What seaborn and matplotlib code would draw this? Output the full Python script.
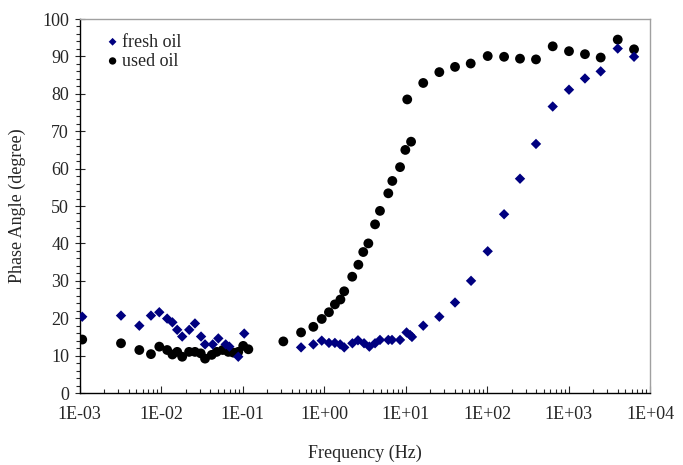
import numpy as np
import pandas as pd
import matplotlib
matplotlib.use("Agg")
import matplotlib.pyplot as plt
import seaborn as sns
from matplotlib.ticker import LogLocator, FixedLocator, MultipleLocator

# fresh oil (navy diamonds)
fresh_freq = [1.08e-3, 3.23e-3, 5.42e-3, 7.53e-3, 9.53e-3, 1.19e-2, 1.38e-2, 1.58e-2,
              1.82e-2, 2.22e-2, 2.61e-2, 3.10e-2, 3.47e-2, 4.31e-2, 5.05e-2, 6.22e-2,
              6.89e-2, 8.87e-2, 0.105,
              0.523, 0.740, 0.938, 1.15, 1.36, 1.58, 1.77, 2.23, 2.61, 3.10, 3.60,
              4.23, 4.86, 6.15, 6.83, 8.57, 10.3, 11.4, 12.0,
              16.5, 26.0, 40.5, 63.7, 102, 162, 254, 399, 640, 1014, 1592, 2483, 4018, 6368]
fresh_phase = [20.4, 20.7, 18.0, 20.7, 21.6, 19.9, 18.9, 16.9,
               15.1, 16.9, 18.6, 15.1, 13.0, 13.0, 14.6, 13.0,
               12.4, 9.7, 15.9,
               12.2, 13.0, 14.0, 13.4, 13.4, 13.0, 12.2, 13.3, 14.1, 13.3, 12.4,
               13.3, 14.2, 14.2, 14.2, 14.2, 16.2, 15.5, 15.0,
               18.0, 20.4, 24.2, 30.0, 37.9, 47.8, 57.3, 66.6, 76.6, 81.1, 84.1, 86.0, 92.1, 89.9]

# used oil (black circles)
used_freq = [1.08e-3, 3.23e-3, 5.42e-3, 7.53e-3, 9.53e-3, 1.19e-2, 1.38e-2, 1.58e-2,
             1.82e-2, 2.21e-2, 2.61e-2, 3.07e-2, 3.47e-2, 4.19e-2, 4.82e-2, 5.71e-2,
             6.70e-2, 7.71e-2, 8.87e-2, 0.102, 0.118,
             0.317, 0.523, 0.740, 0.938, 1.15, 1.36, 1.59, 1.77, 2.22, 2.64, 3.03,
             3.50, 4.23, 4.86, 6.15, 6.89, 8.57, 9.95, 10.5, 11.7,
             16.5, 26.0, 40.5, 63.1, 102, 162, 254, 399, 640, 1014, 1592, 2483, 4018, 6368]
used_phase = [14.3, 13.3, 11.5, 10.4, 12.4, 11.5, 10.3, 11.0,
              9.7, 11.0, 11.0, 10.6, 9.2, 10.2, 11.0, 11.5,
              11.0, 10.8, 11.0, 12.6, 11.7,
              13.8, 16.2, 17.7, 19.8, 21.6, 23.7, 25.0, 27.2, 31.1, 34.3, 37.7,
              40.0, 45.1, 48.7, 53.4, 56.7, 60.4, 65.0, 78.5, 67.2,
              82.9, 85.8, 87.2, 88.1, 90.1, 89.9, 89.4, 89.2, 92.7, 91.4, 90.6, 89.7, 94.5, 91.9]

x_ticks = [1e-3, 1e-2, 1e-1, 1e0, 1e1, 1e2, 1e3, 1e4]
x_labels = ["1E-03", "1E-02", "1E-01", "1E+00", "1E+01", "1E+02", "1E+03", "1E+04"]

fresh = pd.DataFrame({"freq": fresh_freq, "phase": fresh_phase})
used = pd.DataFrame({"freq": used_freq, "phase": used_phase})

sns.set_style("ticks")
plt.rcParams["font.family"] = ["Liberation Serif", "DejaVu Serif"]

fig = plt.figure(figsize=(6.83, 4.65), dpi=100)
ax = fig.add_axes([0.1164, 0.1548, 0.8353, 0.8043])

sns.scatterplot(data=fresh, x="freq", y="phase", marker="D", s=28, color="#000080",
                edgecolor="none", label="fresh oil", ax=ax, zorder=3)
sns.scatterplot(data=used, x="freq", y="phase", marker="o", s=50, color="black",
                edgecolor="none", label="used oil", ax=ax, zorder=2)

ax.set_xscale("log")
ax.set_xlim(1e-3, 1e4)
ax.set_ylim(0, 100)
ax.xaxis.set_major_locator(FixedLocator(x_ticks))
ax.set_xticklabels(x_labels)
ax.xaxis.set_minor_locator(LogLocator(base=10, subs=np.arange(2, 10)))
ax.xaxis.set_minor_formatter(plt.NullFormatter())
ax.yaxis.set_major_locator(MultipleLocator(10))
ax.yaxis.set_minor_locator(MultipleLocator(2))

ax.tick_params(axis="x", which="major", direction="in", length=5, width=0.8, pad=9,
               labelsize=13)
ax.tick_params(axis="x", which="minor", direction="in", length=3, width=0.8)
ax.tick_params(axis="y", which="major", direction="inout", length=7, width=0.8, pad=4,
               labelsize=13)
ax.tick_params(axis="y", which="minor", direction="out", length=3, width=0.8)

ax.set_xlabel("Frequency (Hz)", fontsize=13, labelpad=16)
ax.set_ylabel("Phase Angle (degree)", fontsize=13, labelpad=12)

for side in ["left", "bottom"]:
    ax.spines[side].set_color("black")
    ax.spines[side].set_linewidth(1.0)
for side in ["top", "right"]:
    ax.spines[side].set_color("#a0a0a0")
    ax.spines[side].set_linewidth(1.0)

ax.legend(loc="upper left", bbox_to_anchor=(0.02, 0.995), frameon=False, fontsize=13,
          handlelength=1.0, handletextpad=0.0, labelspacing=0.12, markerscale=0.75,
          borderaxespad=0.3)

fig.savefig("out.png", dpi=100)
